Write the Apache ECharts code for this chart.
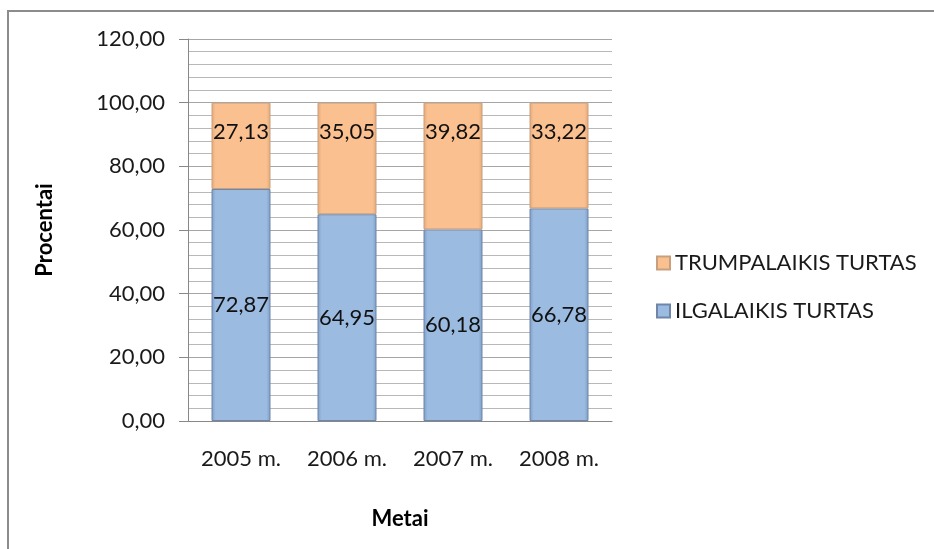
<!DOCTYPE html>
<html>
<head>
<meta charset="utf-8">
<script src="https://cdn.jsdelivr.net/npm/echarts@6/dist/echarts.min.js"></script>
<style>
	html, body { margin: 0; padding: 0; background: #fff; }
	#main { width: 934px; height: 549px; }
</style>
</head>
<body>
<div id="main"></div>
<script>
var years = ['2005 m.', '2006 m.', '2007 m.', '2008 m.'];
var ilgalaikis = [72.87, 64.95, 60.18, 66.78];
var trumpalaikis = [27.13, 35.05, 39.82, 33.22];
var yTicks = [0, 20, 40, 60, 80, 100, 120];

var font = 'Lato, "Open Sans", sans-serif';

function fmt(v) {
	return (+v).toFixed(2).replace('.', ',');
}

// šonai tamsesni - imituoja nuosklembą
function barFill(edge, face) {
	return new echarts.graphic.LinearGradient(0, 0, 1, 0, [
		{ offset: 0, color: edge },
		{ offset: 0.07, color: face },
		{ offset: 0.93, color: face },
		{ offset: 1, color: edge }
	]);
}

var myChart = echarts.init(document.getElementById('main'));

var option = {
	backgroundColor: '#fff',
	animation: false,
	graphic: [{
		type: 'rect',
		shape: { x: 8, y: 11, width: 1000, height: 1000 },
		style: { fill: 'none', stroke: '#8c8c8c', lineWidth: 2 }
	}],
	grid: { left: 188, right: 322, top: 39, bottom: 128 },
	legend: {
		orient: 'vertical',
		left: 651,
		top: 245,
		itemWidth: 13,
		itemHeight: 13,
		itemGap: 22,
		icon: 'rect',
		data: ['TRUMPALAIKIS TURTAS', 'ILGALAIKIS TURTAS'],
		textStyle: { fontFamily: font, fontSize: 22, color: '#1a1a1a', lineHeight: 26 }
	},
	xAxis: {
		type: 'category',
		data: years,
		name: 'Metai',
		nameLocation: 'middle',
		nameGap: 87,
		nameTextStyle: { fontFamily: font, fontSize: 22, fontWeight: 'bold', color: '#000' },
		axisLine: { lineStyle: { color: '#888', width: 1 } },
		axisTick: { show: false },
		axisLabel: { margin: 27, fontFamily: font, fontSize: 22, color: '#1a1a1a' }
	},
	yAxis: {
		type: 'value',
		min: yTicks[0],
		max: yTicks[yTicks.length - 1],
		interval: 20,
		name: 'Procentai',
		nameLocation: 'middle',
		nameRotate: 90,
		nameGap: 132,
		nameTextStyle: { fontFamily: font, fontSize: 22, fontWeight: 'bold', color: '#000' },
		axisLine: { show: true, lineStyle: { color: '#888', width: 1 } },
		axisTick: { show: true, length: 9, lineStyle: { color: '#888' } },
		axisLabel: {
			margin: 23,
			fontFamily: font,
			fontSize: 22,
			color: '#1a1a1a',
			formatter: fmt
		},
		splitLine: { show: true, lineStyle: { color: '#a6a6a6', width: 1 } },
		minorTick: { show: false, splitNumber: 5 },
		minorSplitLine: { show: true, lineStyle: { color: '#b8b8b8', width: 1 } }
	},
	series: [{
		name: 'ILGALAIKIS TURTAS',
		type: 'bar',
		stack: 'total',
		barWidth: 59,
		color: '#9bbbe1',
		itemStyle: {
			color: barFill('#7f9cc6', '#9bbbe1'),
			borderColor: '#6f86a8',
			borderWidth: 1
		},
		label: {
			show: true,
			position: 'inside',
			fontFamily: font,
			fontSize: 22,
			color: '#111',
			formatter: function(p) { return fmt(p.value); }
		},
		data: ilgalaikis
	}, {
		name: 'TRUMPALAIKIS TURTAS',
		type: 'bar',
		stack: 'total',
		barWidth: 59,
		color: '#fac090',
		itemStyle: {
			color: barFill('#e3a877', '#fac090'),
			borderColor: '#c9a07e',
			borderWidth: 1
		},
		label: {
			show: true,
			position: 'insideTop',
			distance: 18,
			fontFamily: font,
			fontSize: 22,
			color: '#111',
			formatter: function(p) { return fmt(p.value); }
		},
		data: trumpalaikis
	}]
};

myChart.setOption(option);
</script>
</body>
</html>
